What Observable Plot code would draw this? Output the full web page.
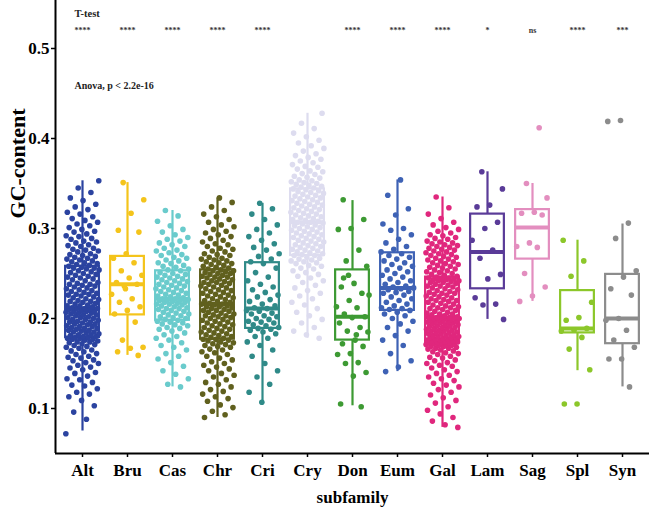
<!DOCTYPE html>
<html><head><meta charset="utf-8">
<script src="https://cdn.jsdelivr.net/npm/d3@7"></script>
<script src="https://cdn.jsdelivr.net/npm/@observablehq/plot@0.6"></script>
<style>body{margin:0;background:#fff} svg{display:block}</style>
</head><body><div id="chart"></div>
<script>
const categories = ["Alt","Bru","Cas","Chr","Cri","Cry","Don","Eum","Gal","Lam","Sag","Spl","Syn"];
const colors = ["#2b43a0","#f4c41b","#6acbcc","#60601e","#2f8a88","#dddcef","#3d9a33","#3e62b5","#e0277d","#5a3b98","#e38ebf","#8cc72a","#8c8c8c"];
const q1 =          [0.179,0.204,0.198,0.177,0.189,0.270,0.176,0.209,0.173,0.233,0.266,0.184,0.172];
const median =      [0.211,0.238,0.222,0.216,0.211,0.307,0.202,0.234,0.201,0.274,0.301,0.189,0.200];
const q3 =          [0.258,0.269,0.253,0.254,0.262,0.344,0.254,0.273,0.246,0.316,0.321,0.231,0.249];
const whiskerLow =  [0.075,0.159,0.124,0.090,0.107,0.178,0.103,0.141,0.079,0.199,0.219,0.142,0.124];
const whiskerHigh = [0.353,0.351,0.320,0.334,0.328,0.428,0.331,0.354,0.335,0.363,0.350,0.287,0.305];
const signif = ["****","****","****","****","****","","****","****","****","*","ns","****","***"];
const yTicks = [0.1,0.2,0.3,0.4,0.5];

// GC-content values (x1000)
const altPts = [72,88,96,103,109,113,116,118,122,125,126,129,132,133,136,139,140,143,145,146,148,150,151,153,154,156,157,158,160,161,163,164,165,167,168,169,170,171,172,173,174,174,175,176,177,177,178,178,179,179,
180,180,181,182,182,183,184,185,185,186,187,187,188,189,189,190,191,191,192,193,194,194,195,196,196,197,198,199,199,200,201,201,202,203,204,204,205,206,206,207,208,208,209,209,210,210,211,211,211,212,
213,214,214,215,216,217,218,219,219,220,221,222,223,224,225,226,227,227,228,229,230,231,232,233,234,235,236,237,238,238,239,240,242,243,244,245,246,247,248,249,250,251,252,253,254,255,256,256,257,258,
259,260,261,262,263,264,265,266,267,268,269,270,271,272,274,275,276,277,278,280,281,282,284,285,286,288,289,291,292,294,296,297,299,301,303,305,307,309,311,313,316,318,321,324,327,331,334,340,345,353];
const bruPts = [351,332,317,298,296,272,267,262,253,248,245,240,238,236,227,222,218,213,209,205,196,176,168,167,163,159,233];
const casPts = [124,127,133,138,142,147,151,155,158,161,165,168,170,173,176,178,180,182,184,186,188,189,190,192,193,194,195,196,197,198,
199,200,201,202,203,204,205,206,207,208,209,210,211,211,212,213,214,215,216,216,217,218,218,219,220,220,221,221,222,222,
223,224,225,226,227,228,229,230,231,232,233,234,235,236,237,238,239,240,241,242,243,244,245,246,247,248,249,250,251,253,
254,255,257,258,259,261,262,264,265,267,268,270,271,273,275,276,278,280,282,284,286,288,290,293,296,299,303,308,314,320];
const chrPts = [90,93,97,101,104,108,111,113,116,119,121,124,127,129,132,135,137,139,142,144,146,148,150,152,154,156,158,160,162,163,165,166,168,169,170,171,172,173,174,175,176,177,
177,178,179,180,181,182,183,184,185,186,187,188,189,190,191,192,193,194,195,196,197,198,199,200,201,202,203,203,204,205,206,207,208,209,209,210,211,212,213,213,214,215,216,
216,217,218,219,220,221,222,223,224,225,226,227,228,229,230,231,232,233,234,235,236,237,238,239,240,240,241,242,243,244,245,246,246,247,248,249,250,250,251,252,253,253,254,
255,256,257,258,259,260,261,262,263,264,265,266,267,268,270,271,272,274,275,277,278,280,282,283,285,287,289,291,293,295,297,299,302,304,307,310,313,316,320,324,329,334];
const criPts = [107,118,127,135,142,150,158,165,170,174,178,180,183,185,187,188,
189,190,192,193,195,196,197,199,200,202,203,205,206,208,209,211,
212,214,216,219,221,224,226,229,232,235,238,242,246,251,256,261,
263,266,269,272,276,279,283,287,291,295,299,304,310,316,322,328];
const cryPts = [178,182,186,190,195,199,203,207,211,215,218,222,225,228,231,234,237,240,242,245,247,249,251,253,255,256,258,259,261,262,263,264,265,266,267,268,270,
270,271,272,273,274,275,276,277,278,279,280,281,282,283,284,285,286,287,288,289,290,291,292,293,294,295,296,297,298,299,300,301,302,303,304,305,306,307,
307,308,309,310,311,312,313,314,315,316,317,318,319,320,321,322,323,324,325,326,327,328,329,330,331,332,333,334,335,336,337,338,339,340,341,342,343,344,
345,346,347,348,349,350,351,352,353,354,356,357,358,360,361,363,364,366,368,369,371,373,375,377,379,381,383,386,389,392,395,398,402,406,411,417,428];
const donPts = [332,310,300,299,276,264,258,239,235,228,220,213,212,205,202,201,195,190,186,185,176,172,169,161,160,151,150,140,136,105,102,248,226,182,245];
const eumPts = [354,337,322,315,305,300,298,293,288,284,280,277,274,272,270,268,266,264,262,260,258,256,254,252,250,248,246,244,242,240,238,236,235,234,233,232,230,229,228,226,224,222,220,218,216,214,212,211,210,209,207,205,203,200,197,194,190,186,181,176,170,161,153,146,141];
const galPts = [79,82,86,90,94,98,102,106,109,112,115,118,121,124,126,128,131,133,135,137,139,141,143,145,147,148,150,151,153,154,156,157,158,160,161,162,163,164,165,166,167,167,168,169,169,170,170,171,171,172,172,173,173,173,173,
174,174,175,175,176,176,177,177,178,178,179,179,180,180,181,181,182,183,183,184,184,185,186,186,187,187,188,189,189,190,190,191,192,192,193,193,194,195,195,196,196,197,197,198,198,199,199,200,200,200,201,201,201,201,201,
202,203,204,205,205,206,207,208,209,210,211,212,212,213,214,215,216,217,218,219,220,220,221,222,223,224,225,226,227,228,228,229,230,231,232,233,234,235,236,236,237,238,239,240,240,241,242,242,243,243,244,244,245,245,246,
247,248,249,250,251,252,253,254,255,256,257,258,259,260,261,262,263,264,265,266,267,268,269,270,271,272,273,274,275,276,277,278,279,280,281,282,283,284,285,286,288,289,290,292,293,295,297,299,301,304,307,311,316,323,335];
const lamPts = [363,344,326,324,307,300,287,276,267,249,244,223,216,215,199];
const sagPts = [412,350,334,318,317,315,284,280,279,250,235,225,219];
const splPts = [287,264,247,218,201,198,189,187,186,179,166,143,105,105];
const synPts = [420,419,306,289,253,246,233,226,200,198,187,176,168,155,155,124];

const pointLists = [altPts,bruPts,casPts,chrPts,criPts,cryPts,donPts,eumPts,galPts,lamPts,sagPts,splPts,synPts];
const boxes = categories.map((c,i)=>({i, cat:c, q1:q1[i], med:median[i], q3:q3[i], lo:whiskerLow[i], hi:whiskerHigh[i]}));
const pts = [];
pointLists.forEach((list,i)=>list.forEach((v,j)=>{
  const off = (((j*0.6180339887 + i*0.37) % 1) - 0.5) * 0.74; // deterministic jitter
  pts.push({i, cat:categories[i], v:v/1000, off});
}));
const sig = categories.map((c,i)=>({i, s:signif[i]}));
const half = 0.375;
const font = "Liberation Serif";

const chart = Plot.plot({
  width: 651, height: 508,
  marginLeft: 55, marginRight: 2, marginTop: 0, marginBottom: 55,
  x: {type:"linear", domain:[-0.6, 12.6], axis:null},
  y: {domain:[0.05, 0.5 + 48/900], axis:null},
  color: {domain:categories, range:colors},
  style: {fontFamily: font, background:"white", color:"black"},
  marks: [
    Plot.rect(boxes, {x1:d=>d.i-half, x2:d=>d.i+half, y1:"q1", y2:"q3", stroke:"cat", fill:"white", strokeWidth:2.2}),
    Plot.ruleX(boxes, {x:"i", y1:"q3", y2:"hi", stroke:"cat", strokeWidth:2.2}),
    Plot.ruleX(boxes, {x:"i", y1:"lo", y2:"q1", stroke:"cat", strokeWidth:2.2}),
    Plot.ruleY(boxes, {y:"med", x1:d=>d.i-half, x2:d=>d.i+half, stroke:"cat", strokeWidth:4}),
    Plot.dot(pts, {x:d=>d.i+d.off, y:"v", fill:"cat", r:2.8}),
    Plot.ruleX([-0.6], {stroke:"black", strokeWidth:2}),
    Plot.ruleY([0.05], {stroke:"black", strokeWidth:2}),
    Plot.axisY({ticks:yTicks, tickFormat:d=>d.toFixed(1), tickSize:4, tickPadding:2, fontSize:17, fontWeight:"bold", label:null, strokeWidth:1.5}),
    Plot.axisX({ticks:d3.range(13), tickFormat:i=>categories[i], tickSize:4, tickPadding:6, fontSize:17, fontWeight:"bold", label:null, strokeWidth:1.5}),
    Plot.text(["subfamily"], {frameAnchor:"bottom", dy:44, lineAnchor:"middle", textAnchor:"middle", fontSize:17, fontWeight:"bold"}),
    Plot.text(["GC-content"], {frameAnchor:"top-left", dx:-38, dy:163, rotate:-90, textAnchor:"middle", lineAnchor:"middle", fontSize:22, fontWeight:"bold"}),
    Plot.text(["T-test"], {frameAnchor:"top-left", dx:19, dy:13, textAnchor:"start", lineAnchor:"middle", fontSize:10.5, fontWeight:"bold", fill:"#222"}),
    Plot.text(["Anova, p < 2.2e-16"], {frameAnchor:"top-left", dx:19, dy:85, textAnchor:"start", lineAnchor:"middle", fontSize:10, fontWeight:"bold", fill:"#222"}),
    Plot.text(sig, {x:"i", frameAnchor:"top", dy:30, lineAnchor:"middle", text:"s", fontSize:8, fontWeight:"bold", fill:"#333"})
  ]
});
document.getElementById("chart").appendChild(chart);
</script>
</body></html>
